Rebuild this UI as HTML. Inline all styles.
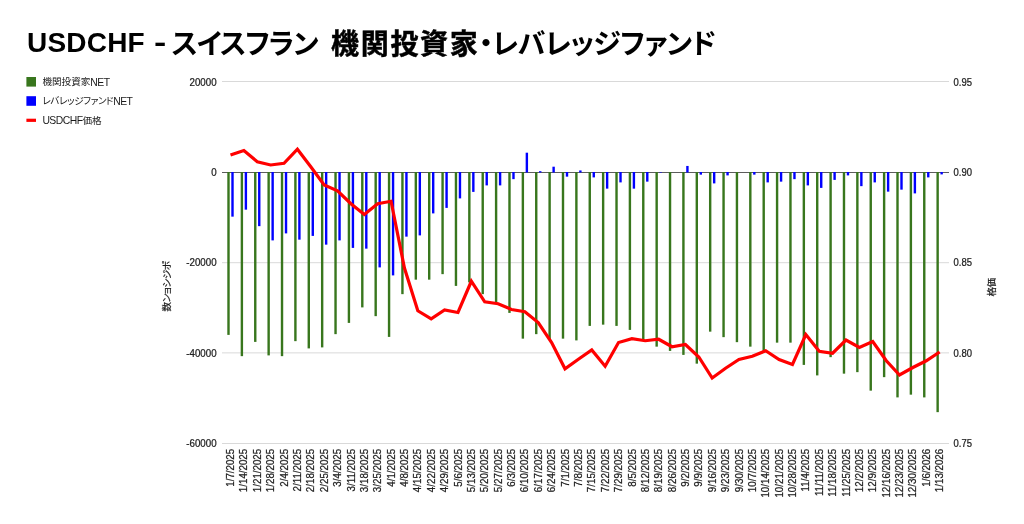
<!DOCTYPE html>
<html lang="ja"><head><meta charset="utf-8"><title>USDCHF</title>
<style>html,body{margin:0;padding:0;background:#fff;overflow:hidden}body{width:1024px;height:524px;position:relative}</style></head>
<body>
<svg width="1024" height="524" viewBox="0 0 1024 524" style="position:absolute;left:0;top:0">
<rect width="1024" height="524" fill="#fff"/>
<rect x="222" y="81.10" width="727" height="0.8" fill="#d0d0d0"/>
<rect x="222" y="262.35" width="727" height="0.8" fill="#d0d0d0"/>
<rect x="222" y="352.50" width="727" height="0.8" fill="#d0d0d0"/>
<rect x="222" y="443.10" width="727" height="0.8" fill="#d0d0d0"/>
<rect x="222" y="172.1" width="727" height="0.8" fill="#333"/>
<g fill="#38761d"><rect x="227.30" y="172.0" width="2.4" height="162.90"/><rect x="240.68" y="172.0" width="2.4" height="184.15"/><rect x="254.06" y="172.0" width="2.4" height="169.90"/><rect x="267.44" y="172.0" width="2.4" height="183.40"/><rect x="280.82" y="172.0" width="2.4" height="184.15"/><rect x="294.20" y="172.0" width="2.4" height="169.15"/><rect x="307.58" y="172.0" width="2.4" height="176.40"/><rect x="320.96" y="172.0" width="2.4" height="175.40"/><rect x="334.34" y="172.0" width="2.4" height="162.15"/><rect x="347.72" y="172.0" width="2.4" height="150.90"/><rect x="361.10" y="172.0" width="2.4" height="135.40"/><rect x="374.48" y="172.0" width="2.4" height="144.15"/><rect x="387.86" y="172.0" width="2.4" height="164.90"/><rect x="401.24" y="172.0" width="2.4" height="122.15"/><rect x="414.62" y="172.0" width="2.4" height="107.65"/><rect x="428.00" y="172.0" width="2.4" height="107.65"/><rect x="441.38" y="172.0" width="2.4" height="102.15"/><rect x="454.76" y="172.0" width="2.4" height="113.90"/><rect x="468.14" y="172.0" width="2.4" height="110.40"/><rect x="481.52" y="172.0" width="2.4" height="122.15"/><rect x="494.90" y="172.0" width="2.4" height="131.40"/><rect x="508.28" y="172.0" width="2.4" height="140.90"/><rect x="521.66" y="172.0" width="2.4" height="166.65"/><rect x="535.04" y="172.0" width="2.4" height="162.15"/><rect x="548.42" y="172.0" width="2.4" height="167.40"/><rect x="561.80" y="172.0" width="2.4" height="166.65"/><rect x="575.18" y="172.0" width="2.4" height="168.40"/><rect x="588.56" y="172.0" width="2.4" height="153.90"/><rect x="601.94" y="172.0" width="2.4" height="152.65"/><rect x="615.32" y="172.0" width="2.4" height="153.90"/><rect x="628.70" y="172.0" width="2.4" height="157.90"/><rect x="642.08" y="172.0" width="2.4" height="167.40"/><rect x="655.46" y="172.0" width="2.4" height="174.65"/><rect x="668.84" y="172.0" width="2.4" height="178.90"/><rect x="682.22" y="172.0" width="2.4" height="182.90"/><rect x="695.60" y="172.0" width="2.4" height="191.65"/><rect x="708.98" y="172.0" width="2.4" height="159.65"/><rect x="722.36" y="172.0" width="2.4" height="165.15"/><rect x="735.74" y="172.0" width="2.4" height="170.15"/><rect x="749.12" y="172.0" width="2.4" height="174.65"/><rect x="762.50" y="172.0" width="2.4" height="180.40"/><rect x="775.88" y="172.0" width="2.4" height="170.65"/><rect x="789.26" y="172.0" width="2.4" height="170.65"/><rect x="802.64" y="172.0" width="2.4" height="192.90"/><rect x="816.02" y="172.0" width="2.4" height="203.40"/><rect x="829.40" y="172.0" width="2.4" height="185.15"/><rect x="842.78" y="172.0" width="2.4" height="201.65"/><rect x="856.16" y="172.0" width="2.4" height="200.15"/><rect x="869.54" y="172.0" width="2.4" height="218.65"/><rect x="882.92" y="172.0" width="2.4" height="205.15"/><rect x="896.30" y="172.0" width="2.4" height="225.40"/><rect x="909.68" y="172.0" width="2.4" height="222.65"/><rect x="923.06" y="172.0" width="2.4" height="225.40"/><rect x="936.44" y="172.0" width="2.4" height="240.15"/></g>
<g fill="#0000ff"><rect x="231.30" y="172.0" width="2.4" height="44.65"/><rect x="244.68" y="172.0" width="2.4" height="37.65"/><rect x="258.06" y="172.0" width="2.4" height="54.15"/><rect x="271.44" y="172.0" width="2.4" height="68.40"/><rect x="284.82" y="172.0" width="2.4" height="61.40"/><rect x="298.20" y="172.0" width="2.4" height="67.65"/><rect x="311.58" y="172.0" width="2.4" height="63.90"/><rect x="324.96" y="172.0" width="2.4" height="72.65"/><rect x="338.34" y="172.0" width="2.4" height="68.40"/><rect x="351.72" y="172.0" width="2.4" height="75.90"/><rect x="365.10" y="172.0" width="2.4" height="76.65"/><rect x="378.48" y="172.0" width="2.4" height="95.40"/><rect x="391.86" y="172.0" width="2.4" height="103.40"/><rect x="405.24" y="172.0" width="2.4" height="64.65"/><rect x="418.62" y="172.0" width="2.4" height="63.40"/><rect x="432.00" y="172.0" width="2.4" height="41.40"/><rect x="445.38" y="172.0" width="2.4" height="35.90"/><rect x="458.76" y="172.0" width="2.4" height="26.40"/><rect x="472.14" y="172.0" width="2.4" height="19.90"/><rect x="485.52" y="172.0" width="2.4" height="13.40"/><rect x="498.90" y="172.0" width="2.4" height="13.40"/><rect x="512.28" y="172.0" width="2.4" height="7.15"/><rect x="525.66" y="152.70" width="2.4" height="19.80"/><rect x="539.04" y="171.20" width="2.4" height="1.30"/><rect x="552.42" y="166.70" width="2.4" height="5.80"/><rect x="565.80" y="172.0" width="2.4" height="4.65"/><rect x="579.18" y="170.45" width="2.4" height="2.05"/><rect x="592.56" y="172.0" width="2.4" height="5.40"/><rect x="605.94" y="172.0" width="2.4" height="16.65"/><rect x="619.32" y="172.0" width="2.4" height="10.40"/><rect x="632.70" y="172.0" width="2.4" height="16.65"/><rect x="646.08" y="172.0" width="2.4" height="9.65"/><rect x="659.46" y="172.00" width="2.4" height="0.50"/><rect x="686.22" y="165.95" width="2.4" height="6.55"/><rect x="699.60" y="172.0" width="2.4" height="2.65"/><rect x="712.98" y="172.0" width="2.4" height="11.40"/><rect x="726.36" y="172.0" width="2.4" height="3.40"/><rect x="753.12" y="172.0" width="2.4" height="2.65"/><rect x="766.50" y="172.0" width="2.4" height="10.40"/><rect x="779.88" y="172.0" width="2.4" height="9.65"/><rect x="793.26" y="172.0" width="2.4" height="7.15"/><rect x="806.64" y="172.0" width="2.4" height="13.40"/><rect x="820.02" y="172.0" width="2.4" height="15.90"/><rect x="833.40" y="172.0" width="2.4" height="7.90"/><rect x="846.78" y="172.0" width="2.4" height="3.40"/><rect x="860.16" y="172.0" width="2.4" height="14.15"/><rect x="873.54" y="172.0" width="2.4" height="10.40"/><rect x="886.92" y="172.0" width="2.4" height="19.65"/><rect x="900.30" y="172.0" width="2.4" height="17.65"/><rect x="913.68" y="172.0" width="2.4" height="21.40"/><rect x="927.06" y="172.0" width="2.4" height="5.40"/><rect x="940.44" y="172.0" width="2.4" height="2.40"/></g>
<polyline points="230.50,155.00 243.88,150.50 257.26,161.75 270.64,165.00 284.02,163.30 297.40,149.20 310.78,166.75 324.16,185.00 337.54,190.75 350.92,203.75 364.30,214.50 377.68,203.75 391.06,201.25 404.44,268.00 417.82,310.75 431.20,318.75 444.58,310.00 457.96,312.50 471.34,281.25 484.72,301.75 498.10,303.75 511.48,309.50 524.86,311.75 538.24,322.50 551.62,342.50 565.00,368.75 578.38,359.25 591.76,350.00 605.14,366.25 618.52,342.50 631.90,338.75 645.28,340.75 658.66,339.25 672.04,346.75 685.42,344.50 698.80,357.00 712.18,378.00 725.56,368.25 738.94,359.50 752.32,356.25 765.70,350.75 779.08,359.50 792.46,364.50 805.84,334.50 819.22,351.25 832.60,353.25 845.98,340.00 859.36,347.50 872.74,341.50 886.12,360.50 899.50,375.00 912.88,367.50 926.26,360.75 939.64,352.00" fill="none" stroke="#ff0000" stroke-width="3.2" stroke-linejoin="miter"/>
<text transform="translate(216.6,85.5) scale(0.955,1)" text-anchor="end" font-family="'Liberation Sans', sans-serif" font-size="10.2" fill="#222" stroke="#222" stroke-width="0.25">20000</text>
<text transform="translate(216.6,175.9) scale(0.955,1)" text-anchor="end" font-family="'Liberation Sans', sans-serif" font-size="10.2" fill="#222" stroke="#222" stroke-width="0.25">0</text>
<text transform="translate(216.6,266.0) scale(0.955,1)" text-anchor="end" font-family="'Liberation Sans', sans-serif" font-size="10.2" fill="#222" stroke="#222" stroke-width="0.25">-20000</text>
<text transform="translate(216.6,356.7) scale(0.955,1)" text-anchor="end" font-family="'Liberation Sans', sans-serif" font-size="10.2" fill="#222" stroke="#222" stroke-width="0.25">-40000</text>
<text transform="translate(216.6,446.9) scale(0.955,1)" text-anchor="end" font-family="'Liberation Sans', sans-serif" font-size="10.2" fill="#222" stroke="#222" stroke-width="0.25">-60000</text>
<text transform="translate(953.6,85.5) scale(0.93,1)" font-family="'Liberation Sans', sans-serif" font-size="10.2" fill="#222" stroke="#222" stroke-width="0.25">0.95</text>
<text transform="translate(953.6,175.9) scale(0.93,1)" font-family="'Liberation Sans', sans-serif" font-size="10.2" fill="#222" stroke="#222" stroke-width="0.25">0.90</text>
<text transform="translate(953.6,266.0) scale(0.93,1)" font-family="'Liberation Sans', sans-serif" font-size="10.2" fill="#222" stroke="#222" stroke-width="0.25">0.85</text>
<text transform="translate(953.6,356.7) scale(0.93,1)" font-family="'Liberation Sans', sans-serif" font-size="10.2" fill="#222" stroke="#222" stroke-width="0.25">0.80</text>
<text transform="translate(953.6,446.9) scale(0.93,1)" font-family="'Liberation Sans', sans-serif" font-size="10.2" fill="#222" stroke="#222" stroke-width="0.25">0.75</text>
<text transform="translate(234.10,448.8) rotate(-90) scale(0.955,1)" text-anchor="end" font-family="'Liberation Sans', sans-serif" font-size="10.2" fill="#222" stroke="#222" stroke-width="0.25">1/7/2025</text>
<text transform="translate(247.48,448.8) rotate(-90) scale(0.955,1)" text-anchor="end" font-family="'Liberation Sans', sans-serif" font-size="10.2" fill="#222" stroke="#222" stroke-width="0.25">1/14/2025</text>
<text transform="translate(260.86,448.8) rotate(-90) scale(0.955,1)" text-anchor="end" font-family="'Liberation Sans', sans-serif" font-size="10.2" fill="#222" stroke="#222" stroke-width="0.25">1/21/2025</text>
<text transform="translate(274.24,448.8) rotate(-90) scale(0.955,1)" text-anchor="end" font-family="'Liberation Sans', sans-serif" font-size="10.2" fill="#222" stroke="#222" stroke-width="0.25">1/28/2025</text>
<text transform="translate(287.62,448.8) rotate(-90) scale(0.955,1)" text-anchor="end" font-family="'Liberation Sans', sans-serif" font-size="10.2" fill="#222" stroke="#222" stroke-width="0.25">2/4/2025</text>
<text transform="translate(301.00,448.8) rotate(-90) scale(0.955,1)" text-anchor="end" font-family="'Liberation Sans', sans-serif" font-size="10.2" fill="#222" stroke="#222" stroke-width="0.25">2/11/2025</text>
<text transform="translate(314.38,448.8) rotate(-90) scale(0.955,1)" text-anchor="end" font-family="'Liberation Sans', sans-serif" font-size="10.2" fill="#222" stroke="#222" stroke-width="0.25">2/18/2025</text>
<text transform="translate(327.76,448.8) rotate(-90) scale(0.955,1)" text-anchor="end" font-family="'Liberation Sans', sans-serif" font-size="10.2" fill="#222" stroke="#222" stroke-width="0.25">2/25/2025</text>
<text transform="translate(341.14,448.8) rotate(-90) scale(0.955,1)" text-anchor="end" font-family="'Liberation Sans', sans-serif" font-size="10.2" fill="#222" stroke="#222" stroke-width="0.25">3/4/2025</text>
<text transform="translate(354.52,448.8) rotate(-90) scale(0.955,1)" text-anchor="end" font-family="'Liberation Sans', sans-serif" font-size="10.2" fill="#222" stroke="#222" stroke-width="0.25">3/11/2025</text>
<text transform="translate(367.90,448.8) rotate(-90) scale(0.955,1)" text-anchor="end" font-family="'Liberation Sans', sans-serif" font-size="10.2" fill="#222" stroke="#222" stroke-width="0.25">3/18/2025</text>
<text transform="translate(381.28,448.8) rotate(-90) scale(0.955,1)" text-anchor="end" font-family="'Liberation Sans', sans-serif" font-size="10.2" fill="#222" stroke="#222" stroke-width="0.25">3/25/2025</text>
<text transform="translate(394.66,448.8) rotate(-90) scale(0.955,1)" text-anchor="end" font-family="'Liberation Sans', sans-serif" font-size="10.2" fill="#222" stroke="#222" stroke-width="0.25">4/1/2025</text>
<text transform="translate(408.04,448.8) rotate(-90) scale(0.955,1)" text-anchor="end" font-family="'Liberation Sans', sans-serif" font-size="10.2" fill="#222" stroke="#222" stroke-width="0.25">4/8/2025</text>
<text transform="translate(421.42,448.8) rotate(-90) scale(0.955,1)" text-anchor="end" font-family="'Liberation Sans', sans-serif" font-size="10.2" fill="#222" stroke="#222" stroke-width="0.25">4/15/2025</text>
<text transform="translate(434.80,448.8) rotate(-90) scale(0.955,1)" text-anchor="end" font-family="'Liberation Sans', sans-serif" font-size="10.2" fill="#222" stroke="#222" stroke-width="0.25">4/22/2025</text>
<text transform="translate(448.18,448.8) rotate(-90) scale(0.955,1)" text-anchor="end" font-family="'Liberation Sans', sans-serif" font-size="10.2" fill="#222" stroke="#222" stroke-width="0.25">4/29/2025</text>
<text transform="translate(461.56,448.8) rotate(-90) scale(0.955,1)" text-anchor="end" font-family="'Liberation Sans', sans-serif" font-size="10.2" fill="#222" stroke="#222" stroke-width="0.25">5/6/2025</text>
<text transform="translate(474.94,448.8) rotate(-90) scale(0.955,1)" text-anchor="end" font-family="'Liberation Sans', sans-serif" font-size="10.2" fill="#222" stroke="#222" stroke-width="0.25">5/13/2025</text>
<text transform="translate(488.32,448.8) rotate(-90) scale(0.955,1)" text-anchor="end" font-family="'Liberation Sans', sans-serif" font-size="10.2" fill="#222" stroke="#222" stroke-width="0.25">5/20/2025</text>
<text transform="translate(501.70,448.8) rotate(-90) scale(0.955,1)" text-anchor="end" font-family="'Liberation Sans', sans-serif" font-size="10.2" fill="#222" stroke="#222" stroke-width="0.25">5/27/2025</text>
<text transform="translate(515.08,448.8) rotate(-90) scale(0.955,1)" text-anchor="end" font-family="'Liberation Sans', sans-serif" font-size="10.2" fill="#222" stroke="#222" stroke-width="0.25">6/3/2025</text>
<text transform="translate(528.46,448.8) rotate(-90) scale(0.955,1)" text-anchor="end" font-family="'Liberation Sans', sans-serif" font-size="10.2" fill="#222" stroke="#222" stroke-width="0.25">6/10/2025</text>
<text transform="translate(541.84,448.8) rotate(-90) scale(0.955,1)" text-anchor="end" font-family="'Liberation Sans', sans-serif" font-size="10.2" fill="#222" stroke="#222" stroke-width="0.25">6/17/2025</text>
<text transform="translate(555.22,448.8) rotate(-90) scale(0.955,1)" text-anchor="end" font-family="'Liberation Sans', sans-serif" font-size="10.2" fill="#222" stroke="#222" stroke-width="0.25">6/24/2025</text>
<text transform="translate(568.60,448.8) rotate(-90) scale(0.955,1)" text-anchor="end" font-family="'Liberation Sans', sans-serif" font-size="10.2" fill="#222" stroke="#222" stroke-width="0.25">7/1/2025</text>
<text transform="translate(581.98,448.8) rotate(-90) scale(0.955,1)" text-anchor="end" font-family="'Liberation Sans', sans-serif" font-size="10.2" fill="#222" stroke="#222" stroke-width="0.25">7/8/2025</text>
<text transform="translate(595.36,448.8) rotate(-90) scale(0.955,1)" text-anchor="end" font-family="'Liberation Sans', sans-serif" font-size="10.2" fill="#222" stroke="#222" stroke-width="0.25">7/15/2025</text>
<text transform="translate(608.74,448.8) rotate(-90) scale(0.955,1)" text-anchor="end" font-family="'Liberation Sans', sans-serif" font-size="10.2" fill="#222" stroke="#222" stroke-width="0.25">7/22/2025</text>
<text transform="translate(622.12,448.8) rotate(-90) scale(0.955,1)" text-anchor="end" font-family="'Liberation Sans', sans-serif" font-size="10.2" fill="#222" stroke="#222" stroke-width="0.25">7/29/2025</text>
<text transform="translate(635.50,448.8) rotate(-90) scale(0.955,1)" text-anchor="end" font-family="'Liberation Sans', sans-serif" font-size="10.2" fill="#222" stroke="#222" stroke-width="0.25">8/5/2025</text>
<text transform="translate(648.88,448.8) rotate(-90) scale(0.955,1)" text-anchor="end" font-family="'Liberation Sans', sans-serif" font-size="10.2" fill="#222" stroke="#222" stroke-width="0.25">8/12/2025</text>
<text transform="translate(662.26,448.8) rotate(-90) scale(0.955,1)" text-anchor="end" font-family="'Liberation Sans', sans-serif" font-size="10.2" fill="#222" stroke="#222" stroke-width="0.25">8/19/2025</text>
<text transform="translate(675.64,448.8) rotate(-90) scale(0.955,1)" text-anchor="end" font-family="'Liberation Sans', sans-serif" font-size="10.2" fill="#222" stroke="#222" stroke-width="0.25">8/26/2025</text>
<text transform="translate(689.02,448.8) rotate(-90) scale(0.955,1)" text-anchor="end" font-family="'Liberation Sans', sans-serif" font-size="10.2" fill="#222" stroke="#222" stroke-width="0.25">9/2/2025</text>
<text transform="translate(702.40,448.8) rotate(-90) scale(0.955,1)" text-anchor="end" font-family="'Liberation Sans', sans-serif" font-size="10.2" fill="#222" stroke="#222" stroke-width="0.25">9/9/2025</text>
<text transform="translate(715.78,448.8) rotate(-90) scale(0.955,1)" text-anchor="end" font-family="'Liberation Sans', sans-serif" font-size="10.2" fill="#222" stroke="#222" stroke-width="0.25">9/16/2025</text>
<text transform="translate(729.16,448.8) rotate(-90) scale(0.955,1)" text-anchor="end" font-family="'Liberation Sans', sans-serif" font-size="10.2" fill="#222" stroke="#222" stroke-width="0.25">9/23/2025</text>
<text transform="translate(742.54,448.8) rotate(-90) scale(0.955,1)" text-anchor="end" font-family="'Liberation Sans', sans-serif" font-size="10.2" fill="#222" stroke="#222" stroke-width="0.25">9/30/2025</text>
<text transform="translate(755.92,448.8) rotate(-90) scale(0.955,1)" text-anchor="end" font-family="'Liberation Sans', sans-serif" font-size="10.2" fill="#222" stroke="#222" stroke-width="0.25">10/7/2025</text>
<text transform="translate(769.30,448.8) rotate(-90) scale(0.955,1)" text-anchor="end" font-family="'Liberation Sans', sans-serif" font-size="10.2" fill="#222" stroke="#222" stroke-width="0.25">10/14/2025</text>
<text transform="translate(782.68,448.8) rotate(-90) scale(0.955,1)" text-anchor="end" font-family="'Liberation Sans', sans-serif" font-size="10.2" fill="#222" stroke="#222" stroke-width="0.25">10/21/2025</text>
<text transform="translate(796.06,448.8) rotate(-90) scale(0.955,1)" text-anchor="end" font-family="'Liberation Sans', sans-serif" font-size="10.2" fill="#222" stroke="#222" stroke-width="0.25">10/28/2025</text>
<text transform="translate(809.44,448.8) rotate(-90) scale(0.955,1)" text-anchor="end" font-family="'Liberation Sans', sans-serif" font-size="10.2" fill="#222" stroke="#222" stroke-width="0.25">11/4/2025</text>
<text transform="translate(822.82,448.8) rotate(-90) scale(0.955,1)" text-anchor="end" font-family="'Liberation Sans', sans-serif" font-size="10.2" fill="#222" stroke="#222" stroke-width="0.25">11/11/2025</text>
<text transform="translate(836.20,448.8) rotate(-90) scale(0.955,1)" text-anchor="end" font-family="'Liberation Sans', sans-serif" font-size="10.2" fill="#222" stroke="#222" stroke-width="0.25">11/18/2025</text>
<text transform="translate(849.58,448.8) rotate(-90) scale(0.955,1)" text-anchor="end" font-family="'Liberation Sans', sans-serif" font-size="10.2" fill="#222" stroke="#222" stroke-width="0.25">11/25/2025</text>
<text transform="translate(862.96,448.8) rotate(-90) scale(0.955,1)" text-anchor="end" font-family="'Liberation Sans', sans-serif" font-size="10.2" fill="#222" stroke="#222" stroke-width="0.25">12/2/2025</text>
<text transform="translate(876.34,448.8) rotate(-90) scale(0.955,1)" text-anchor="end" font-family="'Liberation Sans', sans-serif" font-size="10.2" fill="#222" stroke="#222" stroke-width="0.25">12/9/2025</text>
<text transform="translate(889.72,448.8) rotate(-90) scale(0.955,1)" text-anchor="end" font-family="'Liberation Sans', sans-serif" font-size="10.2" fill="#222" stroke="#222" stroke-width="0.25">12/16/2025</text>
<text transform="translate(903.10,448.8) rotate(-90) scale(0.955,1)" text-anchor="end" font-family="'Liberation Sans', sans-serif" font-size="10.2" fill="#222" stroke="#222" stroke-width="0.25">12/23/2025</text>
<text transform="translate(916.48,448.8) rotate(-90) scale(0.955,1)" text-anchor="end" font-family="'Liberation Sans', sans-serif" font-size="10.2" fill="#222" stroke="#222" stroke-width="0.25">12/30/2025</text>
<text transform="translate(929.86,448.8) rotate(-90) scale(0.955,1)" text-anchor="end" font-family="'Liberation Sans', sans-serif" font-size="10.2" fill="#222" stroke="#222" stroke-width="0.25">1/6/2026</text>
<text transform="translate(943.24,448.8) rotate(-90) scale(0.955,1)" text-anchor="end" font-family="'Liberation Sans', sans-serif" font-size="10.2" fill="#222" stroke="#222" stroke-width="0.25">1/13/2026</text>
<text transform="translate(169.5,286.5) rotate(-90)" text-anchor="middle" font-family="'Liberation Sans', 'Noto Sans CJK JP', sans-serif" font-size="9.6" fill="#1a1a1a" stroke="#1a1a1a" stroke-width="0.2" letter-spacing="-0.5" direction="rtl" unicode-bidi="bidi-override" style="font-feature-settings:'palt'">ポジション数</text>
<text transform="translate(995.4,287.5) rotate(-90)" text-anchor="middle" font-family="'Liberation Sans', 'Noto Sans CJK JP', sans-serif" font-size="9.6" fill="#1a1a1a" stroke="#1a1a1a" stroke-width="0.2" letter-spacing="-0.5" direction="rtl" unicode-bidi="bidi-override" style="font-feature-settings:'palt'">価格</text>
<rect x="26.4" y="77" width="9.6" height="9.6" fill="#38761d"/>
<rect x="26.4" y="96.2" width="9.6" height="9.6" fill="#0000ff"/>
<rect x="26.4" y="118.7" width="9.6" height="3.2" fill="#ff0000"/>
<text x="42.4" y="85.2" font-family="'Liberation Sans', 'Noto Sans CJK JP', sans-serif" font-size="9.6" fill="#1a1a1a" style="font-feature-settings:'palt'">機関投資家<tspan font-size="10.4" letter-spacing="-0.5" dy="0.6">NET</tspan></text>
<text x="42.4" y="103.9" font-family="'Liberation Sans', 'Noto Sans CJK JP', sans-serif" font-size="9.6" fill="#1a1a1a" style="font-feature-settings:'palt'"><tspan letter-spacing="-0.45">レバレッジファンド</tspan><tspan font-size="10.4" letter-spacing="-0.5" dy="0.6">NET</tspan></text>
<text x="42.4" y="123.5" font-family="'Liberation Sans', 'Noto Sans CJK JP', sans-serif" font-size="9.6" fill="#1a1a1a" style="font-feature-settings:'palt'"><tspan font-size="10.4" letter-spacing="-0.53" dy="0.6">USDCHF</tspan><tspan dy="-0.6">価格</tspan></text>
<text x="27" y="52" letter-spacing="0.2" font-family="'Liberation Sans', 'Noto Sans CJK JP', sans-serif" font-size="28" font-weight="bold" fill="#000">USDCHF</text>
<text transform="translate(154.1,52) scale(1.32,1)" font-family="'Liberation Sans', 'Noto Sans CJK JP', sans-serif" font-size="28" font-weight="bold" fill="#000">-</text>
<text y="53.5" font-family="'Liberation Sans', 'Noto Sans CJK JP', sans-serif" font-size="28" font-weight="bold" fill="#000" style="font-feature-settings:'palt'"><tspan x="171.5" letter-spacing="-1.1">スイスフラン </tspan><tspan x="331" letter-spacing="1.7" stroke="#000" stroke-width="0.5">機関投資家</tspan><tspan x="479" letter-spacing="-0.6">・レバレッジファンド</tspan></text>
</svg>
</body></html>
